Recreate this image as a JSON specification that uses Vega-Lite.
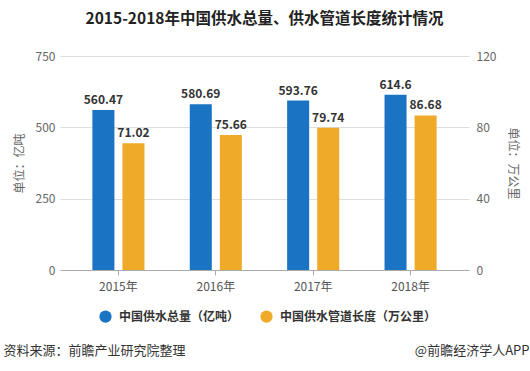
{
  "$schema": "https://vega.github.io/schema/vega-lite/v6.json",
  "width": 409,
  "height": 214,
  "autosize": "none",
  "padding": {"left": 60, "top": 56, "right": 61, "bottom": 101},
  "background": "white",
  "title": {
    "text": "2015-2018年中国供水总量、供水管道长度统计情况",
    "fontSize": 15.5,
    "fontWeight": "bold",
    "color": "#222222",
    "font": "Noto Sans CJK SC",
    "anchor": "middle",
    "frame": "group",
    "offset": 23
  },
  "config": {
    "view": {"stroke": null},
    "font": "Noto Sans CJK SC",
    "axis": {"labelFont": "Noto Sans CJK SC", "titleFont": "Noto Sans CJK SC"}
  },
  "data": {
    "values": [
      {"year": "2015年", "series": "中国供水总量（亿吨）", "v": 560.47},
      {"year": "2016年", "series": "中国供水总量（亿吨）", "v": 580.69},
      {"year": "2017年", "series": "中国供水总量（亿吨）", "v": 593.76},
      {"year": "2018年", "series": "中国供水总量（亿吨）", "v": 614.6},
      {"year": "2015年", "series": "中国供水管道长度（万公里）", "v": 71.02},
      {"year": "2016年", "series": "中国供水管道长度（万公里）", "v": 75.66},
      {"year": "2017年", "series": "中国供水管道长度（万公里）", "v": 79.74},
      {"year": "2018年", "series": "中国供水管道长度（万公里）", "v": 86.68}
    ]
  },
  "layer": [
    {
      "transform": [{"filter": "datum.series === '中国供水总量（亿吨）'"}],
      "encoding": {
        "x": {
          "field": "year", "type": "nominal", "sort": null,
          "scale": {"paddingInner": 0.3, "paddingOuter": 0.25},
          "axis": {
            "labelAngle": 0, "labelColor": "#555555", "labelFontSize": 12, "labelPadding": 6,
            "domainColor": "#aaaaaa", "tickColor": "#aaaaaa", "tickSize": 5,
            "title": "资料来源：前瞻产业研究院整理",
            "titleFontSize": 13, "titleFontWeight": "normal", "titleColor": "#333333",
            "titleAnchor": "start", "titleAlign": "left", "titleBaseline": "middle",
            "titleX": -57, "titleY": 80
          }
        },
        "xOffset": {
          "field": "series", "type": "nominal", "sort": null,
          "scale": {"domain": ["中国供水总量（亿吨）", "中国供水管道长度（万公里）"], "paddingInner": 0.267, "paddingOuter": 0.267}
        },
        "y": {
          "field": "v", "type": "quantitative",
          "scale": {"domain": [0, 750], "nice": false},
          "axis": {
            "title": "单位：亿吨", "values": [0, 250, 500, 750],
            "domain": false, "ticks": false, "labelColor": "#666666", "labelFontSize": 12, "labelPadding": 5,
            "titleColor": "#666666", "titleFontSize": 12, "titleFontWeight": "normal", "titlePadding": 9,
            "grid": true, "gridColor": "#dddddd"
          }
        }
      },
      "layer": [
        {
          "mark": {"type": "bar"},
          "encoding": {
            "color": {
              "field": "series", "type": "nominal", "sort": null,
              "scale": {"domain": ["中国供水总量（亿吨）", "中国供水管道长度（万公里）"], "range": ["#1a74c3", "#f0aa29"]},
              "legend": {
                "orient": "none", "legendX": 39, "legendY": 254, "direction": "horizontal", "title": null,
                "symbolType": "circle", "symbolSize": 150, "symbolStrokeWidth": 0,
                "labelFontSize": 12, "labelFontWeight": "bold", "labelColor": "#333333", "labelFont": "Noto Sans CJK SC",
                "columnPadding": 20, "labelOffset": 7
              }
            }
          }
        },
        {
          "mark": {"type": "text", "baseline": "bottom", "dy": -3, "fontSize": 12, "fontWeight": "bold", "color": "#333333"},
          "encoding": {"text": {"field": "v", "type": "quantitative", "format": "~r"}}
        }
      ]
    },
    {
      "transform": [{"filter": "datum.series === '中国供水管道长度（万公里）'"}],
      "encoding": {
        "x": {
          "field": "year", "type": "nominal", "sort": null,
          "scale": {"paddingInner": 0.3, "paddingOuter": 0.25},
          "axis": {
            "orient": "top", "labels": false, "ticks": false, "domain": false, "grid": false,
            "title": "@前瞻经济学人APP",
            "titleFontSize": 13, "titleFontWeight": "normal", "titleColor": "#333333",
            "titleAnchor": "end", "titleAlign": "right", "titleBaseline": "middle",
            "titleX": 469, "titleY": 294
          }
        },
        "xOffset": {
          "field": "series", "type": "nominal", "sort": null,
          "scale": {"domain": ["中国供水总量（亿吨）", "中国供水管道长度（万公里）"], "paddingInner": 0.267, "paddingOuter": 0.267}
        },
        "y": {
          "field": "v", "type": "quantitative",
          "scale": {"domain": [0, 120], "nice": false},
          "axis": {
            "orient": "right", "title": "单位：万公里", "values": [0, 40, 80, 120],
            "domain": false, "ticks": false, "labelColor": "#666666", "labelFontSize": 12, "labelPadding": 7,
            "titleColor": "#666666", "titleFontSize": 12, "titleFontWeight": "normal", "titlePadding": 10,
            "grid": false
          }
        }
      },
      "layer": [
        {
          "mark": {"type": "bar"},
          "encoding": {
            "color": {
              "field": "series", "type": "nominal", "sort": null,
              "scale": {"domain": ["中国供水总量（亿吨）", "中国供水管道长度（万公里）"], "range": ["#1a74c3", "#f0aa29"]}
            }
          }
        },
        {
          "mark": {"type": "text", "baseline": "bottom", "dy": -3, "fontSize": 12, "fontWeight": "bold", "color": "#333333"},
          "encoding": {"text": {"field": "v", "type": "quantitative", "format": "~r"}}
        }
      ]
    }
  ],
  "resolve": {"scale": {"y": "independent"}, "axis": {"x": "independent"}}
}
